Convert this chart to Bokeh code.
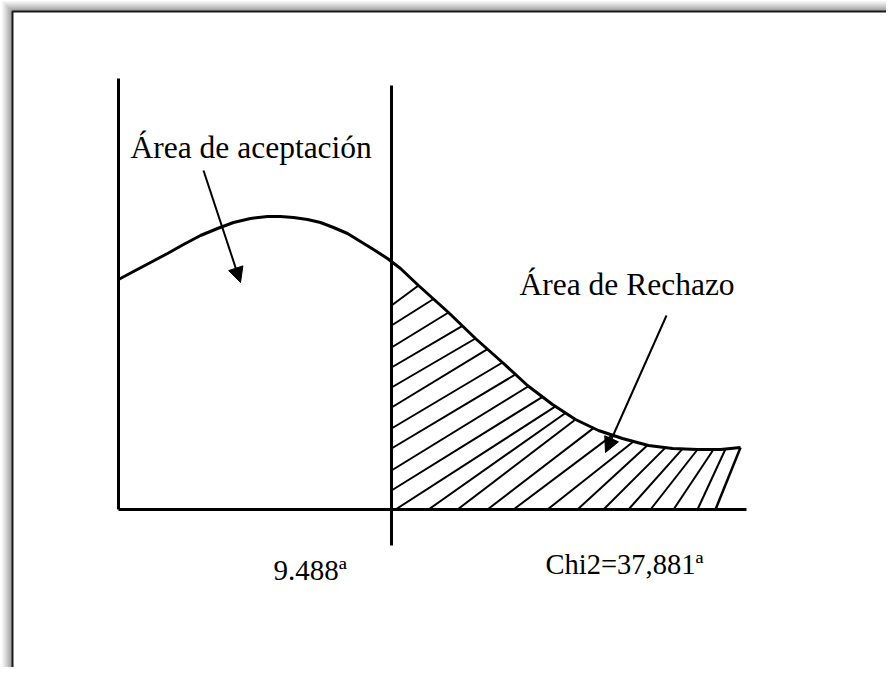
import numpy as np
from bokeh.plotting import figure
from bokeh.models import Range1d, Arrow, NormalHead
from bokeh.core.properties import value
from bokeh.embed import file_html
from bokeh.resources import INLINE

# ---- data (diagram units: origin at the axes' corner, y upward) ----
curve_x = [0, 15, 32, 49, 65, 82, 99, 115, 132, 149, 162, 175, 189, 202, 215, 229,
           242, 255, 269, 282, 300, 330, 357, 384, 409, 434, 457, 480, 504, 530,
           554, 579, 602, 622]
curve_y = [230, 238, 247, 256, 265, 274, 281, 287, 291, 293, 293, 292, 290, 287, 282, 276,
           268, 260, 251, 241, 224, 197, 171, 147, 124, 105, 90, 79, 71, 64,
           61, 60, 60, 62]

critical_x = 273          # 9.488
axis_end_x = 628
axis_top_y = 431
critical_top_y = 424
critical_bottom_y = -36
tail_bottom_x = 597

# hatch lines starting on the critical-value line
hatch_left_y = [204, 184, 162, 142, 122, 102, 81, 61, 39, 19]
hatch_left_top_x = [300, 315, 330, 344, 357, 369, 384, 397, 410, 424]
# hatch lines starting on the x axis
hatch_bottom_x = [277, 310, 339, 369, 395, 429, 459, 485, 510, 532, 555, 579]
hatch_bottom_top_x = [437, 447, 457, 475, 494, 515, 529, 547, 564, 579, 595, 607]

label_text = ["Área de aceptación", "Área de Rechazo"]
label_x = [12, 401]
label_y = [362, 225]
value_text = ["9.488ª", "Chi2=37,881ª"]
value_x = [155, 427]
value_y = [-60, -55]
value_size = ["29px", "28.5px"]

arrow_start = [(85, 339), (548, 194)]
arrow_end = [(122, 227), (487, 57)]

# frame (top edge, left edge) and its shadow shades
frame_left = -106
frame_top = 498
shadow_offsets = [1, 2, 3, 4, 5, 6, 7, 8, 9, 10]
shadow_colors = ["#a0a0a0", "#aaaaaa", "#b4b4b4", "#bebebe", "#c8c8c8",
                 "#d2d2d2", "#dcdcdc", "#e5e5e5", "#eeeeee", "#f6f6f6"]

# ---- figure ----
X0, X1, Y0, Y1 = -118, 768, -158, 509
p = figure(width=886, height=667, x_range=Range1d(X0, X1), y_range=Range1d(Y0, Y1),
           output_backend="svg", toolbar_location=None, min_border=0,
           x_axis_type=None, y_axis_type=None)
p.grid.visible = False
p.outline_line_color = None
p.background_fill_color = "white"
p.border_fill_color = "white"

for off, col in zip(shadow_offsets[::-1], shadow_colors[::-1]):
    p.line([frame_left - off, frame_left - off, X1], [Y0, frame_top + off, frame_top + off],
           line_color=col, line_width=1.2)
p.line([frame_left, frame_left, X1], [Y0, frame_top, frame_top], line_color="#1a1a1a", line_width=2)

# hatch
cx = np.array(curve_x, dtype=float)
cy = np.array(curve_y, dtype=float)
lx0 = [critical_x] * len(hatch_left_y)
ly1 = list(np.interp(hatch_left_top_x, cx, cy))
by0 = [0] * len(hatch_bottom_x)
by1 = list(np.interp(hatch_bottom_top_x, cx, cy))
p.segment(lx0 + hatch_bottom_x, hatch_left_y + by0, hatch_left_top_x + hatch_bottom_top_x, ly1 + by1,
          line_color="black", line_width=2)
# closing edge of the tail
p.segment([tail_bottom_x], [0], [curve_x[-1]], [curve_y[-1]], line_color="black", line_width=2.5)

# axes and critical line
p.segment([0, 0, critical_x], [0, 0, critical_bottom_y], [0, axis_end_x, critical_x],
          [axis_top_y, 0, critical_top_y], line_color="black", line_width=3)

# curve
p.line(curve_x, curve_y, line_color="black", line_width=3, line_join="round")

# arrows
for (xs, ys), (xe, ye) in zip(arrow_start, arrow_end):
    p.add_layout(Arrow(end=NormalHead(size=15, fill_color="black", line_color="black", line_width=1),
                       x_start=xs, y_start=ys, x_end=xe, y_end=ye,
                       line_color="black", line_width=2))

# texts
p.text(label_x, label_y, text=label_text, text_font=value("Liberation Serif"),
       text_font_size="31.5px", text_color="black", text_baseline="alphabetic", text_align="left")
for t, x, y, s in zip(value_text, value_x, value_y, value_size):
    p.text([x], [y], text=[t], text_font=value("Liberation Serif"),
           text_font_size=s, text_color="black", text_baseline="alphabetic", text_align="left")

open("out.html", "w").write(file_html(p, INLINE))
